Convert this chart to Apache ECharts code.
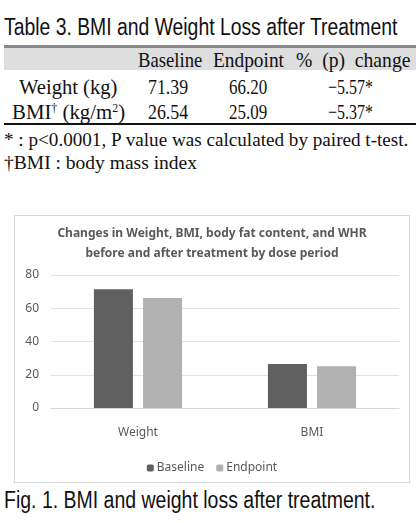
<!DOCTYPE html>
<html>
<head>
<meta charset="utf-8">
<script src="https://cdn.jsdelivr.net/npm/echarts@6/dist/echarts.min.js"></script>
<style>
  html, body { margin: 0; padding: 0; background: #fff; }
  body { width: 416px; height: 523px; position: relative; overflow: hidden; }
  .t { position: absolute; white-space: nowrap; line-height: 24px; height: 24px; transform-origin: 0 50%; color: #111; }
  .sans { font-family: "Liberation Sans", "DejaVu Sans", sans-serif; }
  .serif { font-family: "Liberation Serif", "DejaVu Serif", serif; }
  .sup { position: relative; top: -7px; font-size: 12px; line-height: 0; }
  .rule { position: absolute; }
  #chartBox { position: absolute; left: 14px; top: 215px; width: 394px; height: 266px; border: 1px solid #d9d9d9; }
  #chart { width: 394px; height: 266px; }
</style>
</head>
<body>
<div class="rule" style="left:4px;top:45px;width:412px;height:3px;background:#8a8a8a"></div>
<div class="rule" style="left:4px;top:48px;width:412px;height:22px;background:#dedede"></div>
<div class="rule" style="left:4px;top:123px;width:412px;height:2px;background:#111"></div>

<div class="t sans" style="font-size:23px" data-x="4" data-y="27" data-w="393">Table 3. BMI and Weight Loss after Treatment</div>

<div class="t serif" style="font-size:21px" data-x="138" data-y="60" data-w="64">Baseline</div>
<div class="t serif" style="font-size:21px" data-x="213" data-y="60" data-w="71">Endpoint</div>
<div class="t serif" style="font-size:21px" data-x="296" data-y="60" data-w="114">% &nbsp;(p) &nbsp;change</div>

<div class="t serif" style="font-size:21px" data-x="19" data-y="87" data-w="98">Weight (kg)</div>
<div class="t serif" style="font-size:21px" data-x="148" data-y="87" data-w="40">71.39</div>
<div class="t serif" style="font-size:21px" data-x="229" data-y="87" data-w="38">66.20</div>
<div class="t serif" style="font-size:21px" data-x="328" data-y="87" data-w="45">−5.57*</div>

<div class="t serif" style="font-size:21px" data-x="12" data-y="112" data-w="113">BMI<span class="sup">†</span> (kg/m<span class="sup">2</span>)</div>
<div class="t serif" style="font-size:21px" data-x="148" data-y="112" data-w="40">26.54</div>
<div class="t serif" style="font-size:21px" data-x="229" data-y="112" data-w="38">25.09</div>
<div class="t serif" style="font-size:21px" data-x="328" data-y="112" data-w="45">−5.37*</div>

<div class="t serif" style="font-size:18px" data-x="4" data-y="140" data-w="404">* : p&lt;0.0001, P value was calculated by paired t-test.</div>
<div class="t serif" style="font-size:18px" data-x="4" data-y="163" data-w="193">†BMI : body mass index</div>

<div id="chartBox"><div id="chart"></div></div>

<div class="t sans" style="font-size:23px" data-x="4" data-y="500" data-w="371">Fig. 1. BMI and weight loss after treatment.</div>

<script>
// data (same as the table values)
var categories = ['Weight', 'BMI'];
var baseline = [71.39, 26.54];
var endpoint = [66.20, 25.09];
var yTicks = [0, 20, 40, 60, 80];

// squeeze the text items into the widths seen in the picture
var items = document.querySelectorAll('.t');
for (var i = 0; i < items.length; i++) {
  var el = items[i];
  var w = el.offsetWidth;
  el.style.left = el.getAttribute('data-x') + 'px';
  el.style.top = (parseFloat(el.getAttribute('data-y')) - 12) + 'px';
  el.style.transform = 'scaleX(' + (parseFloat(el.getAttribute('data-w')) / w) + ')';
}

var myChart = echarts.init(document.getElementById('chart'));
var option = {
  animation: false,
  textStyle: { fontFamily: 'Noto Sans', color: '#595959' },
  title: {
    text: 'Changes in Weight, BMI, body fat content, and WHR\nbefore and after treatment by dose period',
    left: 'center',
    top: 3,
    textStyle: { fontSize: 12, fontWeight: 'bold', color: '#595959', lineHeight: 20, fontFamily: 'Noto Sans' }
  },
  legend: {
    data: ['Baseline', 'Endpoint'],
    bottom: 3,
    left: 'center',
    itemWidth: 7,
    itemHeight: 7,
    itemGap: 12,
    textStyle: { fontSize: 12, color: '#595959', padding: [0, 0, 0, -2] }
  },
  grid: { left: 36, right: 10, top: 59, bottom: 74 },
  xAxis: {
    type: 'category',
    data: categories,
    axisLine: { lineStyle: { color: '#d9d9d9' } },
    axisTick: { show: false },
    axisLabel: { fontSize: 12, color: '#595959', margin: 19 }
  },
  yAxis: {
    type: 'value',
    min: yTicks[0],
    max: yTicks[yTicks.length - 1],
    interval: 20,
    axisLine: { show: false },
    axisTick: { show: false },
    axisLabel: { fontSize: 12, color: '#595959', margin: 12 },
    splitLine: { lineStyle: { color: '#e3e3e3' } }
  },
  series: [
    { name: 'Baseline', type: 'bar', data: baseline, barWidth: 39, barGap: '26%', itemStyle: { color: '#606060' } },
    { name: 'Endpoint', type: 'bar', data: endpoint, barWidth: 39, itemStyle: { color: '#b1b1b1' } }
  ]
};
myChart.setOption(option);
</script>
</body>
</html>
